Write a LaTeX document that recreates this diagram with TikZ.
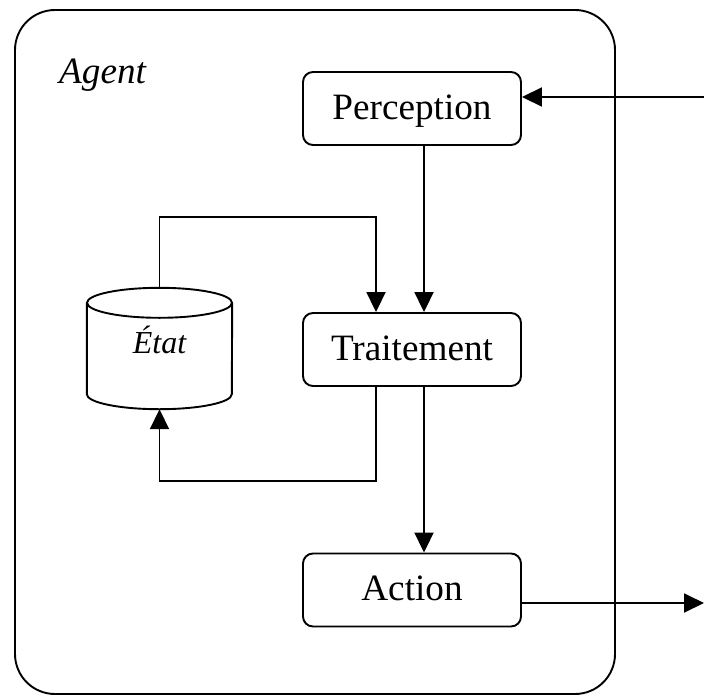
\documentclass[tikz,border=0pt]{standalone}
\usepackage{fontspec}
\setmainfont{Liberation Serif}
\usetikzlibrary{arrows.meta,calc}
\begin{document}
\begin{tikzpicture}[x=1pt,y=-1pt,
  line/.style={line width=1.9pt,draw=black},
  arr/.style={line,-{Triangle[length=20pt,width=19pt]}},
  stepbox/.style={line,rounded corners=10pt,inner sep=0pt,
    minimum width=218pt,text height=47pt,text depth=26pt,
    font=\fontsize{37.2}{40}\selectfont},
  store/.style={inner sep=0pt,minimum width=145pt,text height=65pt,text depth=56pt,
    font=\fontsize{32}{36}\selectfont\itshape}]
\useasboundingbox (0,0) rectangle (704,696);

% agent frame
\node[line,rounded corners=40pt,inner sep=0pt,minimum width=600pt,minimum height=684pt] (frame) at (315,352) {};
\node[anchor=base west,inner sep=0pt,font=\fontsize{37.2}{40}\selectfont\itshape] (agent) at (59,83) {Agent};

% processing steps
\node[stepbox] (perc) at (412,108.5) {Perception};
\node[stepbox] (trait) at (412,349.5) {Traitement};
\node[stepbox] (act) at (412,590) {Action};

% state store (cylinder)
\node[store] (etat) at (159.5,348.5) {État};
\draw[line] ([yshift=-15pt]etat.north west) -- ([yshift=15pt]etat.south west)
  arc[start angle=180,end angle=360,x radius=72.5pt,y radius=15pt]
  -- ([yshift=-15pt]etat.north east);
\draw[line] ([yshift=-15pt]etat.north) ellipse[x radius=72.5pt,y radius=15pt];

% connectors
\coordinate (inpt) at (704,97);
\coordinate (outpt) at (704,603);
\coordinate (mid) at (424,0);
\coordinate (lt) at (376,217);
\coordinate (lb) at (376,481);

\draw[arr] (inpt) -- (inpt -| perc.east);
\draw[arr] (perc.south -| mid) -- (trait.north -| mid);
\draw[arr] (trait.south -| mid) -- (act.north -| mid);
\draw[arr] (act.east |- outpt) -- (outpt);
\draw[arr] (etat.north) |- (lt) -- (lt |- trait.north);
\draw[arr] (lb |- trait.south) -- (lb) -| (etat.south);
\end{tikzpicture}
\end{document}
